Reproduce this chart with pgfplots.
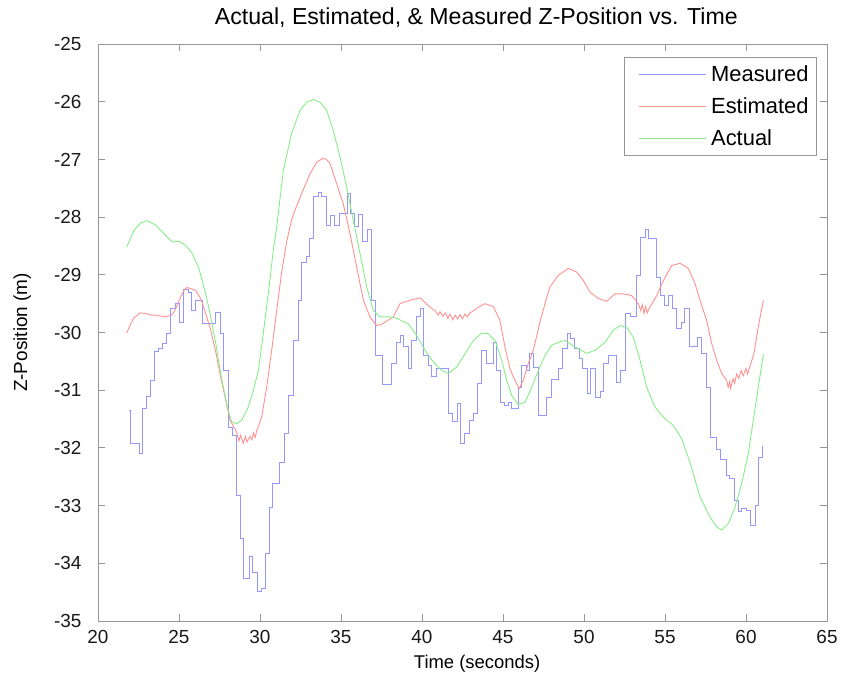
\documentclass[border=0pt]{standalone}
\usepackage{pgfplots}
\pgfplotsset{compat=1.18}
\usepackage{fontspec}
\setmainfont{Liberation Sans}
\definecolor{axgray}{RGB}{150,150,150}
\definecolor{mblue}{RGB}{150,150,255}
\definecolor{ered}{RGB}{255,145,145}
\definecolor{agreen}{RGB}{135,238,135}
\begin{document}
\begin{tikzpicture}
\path (-98bp,-65bp) rectangle (753bp,621bp);
\begin{axis}[
  scale only axis,
  width=729bp, height=577bp,
  xmin=20, xmax=65, ymin=-35, ymax=-25,
  xtick={20,25,...,65}, ytick={-35,-34,...,-25},
  xtick pos=both, ytick pos=both,
  tick align=inside,
  major tick length=7bp,
  tick style={draw=axgray, line width=0.8bp},
  axis line style={draw=axgray, line width=0.8bp},
  /pgf/number format/assume math mode=true,
  ticklabel style={font=\fontsize{19}{22}\selectfont, text=black!90},
  xticklabel style={yshift=-6bp},
  yticklabel style={xshift=-13bp},
  title={Actual, Estimated, \& Measured Z-Position vs. Time},
  title style={font=\fontsize{23.2}{27}\selectfont, at={(axis description cs:0.519,1.036)}, anchor=center},
  xlabel={Time (seconds)},
  xlabel style={font=\fontsize{18.5}{22}\selectfont, at={(axis description cs:0.52,-0.0735)}, anchor=center},
  ylabel={Z-Position (m)},
  ylabel style={font=\fontsize{19}{22}\selectfont, at={(axis description cs:-0.104,0.5)}, anchor=center},
  legend style={at={(axis description cs:1,1)}, anchor=north east, xshift=-10bp, yshift=-13bp,
    draw=axgray, line width=0.8bp, font=\fontsize{22}{26}\selectfont,
    inner xsep=6bp, inner ysep=6bp, row sep=11bp},
  legend cell align=left,
  legend image code/.code={\draw[#1, line width=1bp] (0bp,0bp) -- (67bp,0bp); \path (-8bp,0bp) (70bp,0bp);},
  every axis plot/.append style={line width=0.9bp},
]
\addplot[draw=mblue, const plot mark left] coordinates {
(21.9,-31.35) (22.0,-31.93) (22.53,-32.1) (22.73,-31.31) (23.0,-31.11) (23.25,-30.83)
(23.46,-30.32) (23.72,-30.28) (23.97,-30.19) (24.24,-30.02) (24.49,-29.59) (24.79,-29.50)
(25.0,-29.82) (25.27,-29.26) (25.56,-29.30) (25.76,-29.62) (26.03,-29.44) (26.44,-29.85)
(27.26,-29.65) (27.53,-30.02) (27.73,-30.66) (28.04,-31.64) (28.29,-31.78) (28.52,-32.82)
(28.81,-33.57) (28.97,-34.26) (29.34,-33.88) (29.55,-34.15) (29.83,-34.49) (30.1,-34.43)
(30.31,-33.83) (30.56,-33.03) (30.78,-32.62) (31.23,-32.26) (31.54,-31.75) (31.75,-31.09)
(32.06,-30.14) (32.36,-29.44) (32.57,-28.78) (32.84,-28.69) (33.07,-28.37) (33.29,-27.65)
(33.6,-27.57) (33.8,-27.65) (34.11,-28.14) (34.32,-27.97) (34.57,-28.14) (34.88,-27.94)
(35.39,-27.59) (35.6,-27.94) (35.86,-28.17) (36.07,-27.95) (36.34,-28.43) (36.62,-28.22)
(36.89,-29.44) (37.1,-30.40) (37.57,-30.9) (38.12,-30.54) (38.4,-30.17) (38.64,-30.05)
(38.85,-30.24) (39.16,-30.63) (39.36,-30.14) (39.67,-29.73) (39.88,-29.59) (40.12,-30.40)
(40.39,-30.57) (40.6,-30.77) (40.9,-30.63) (41.63,-31.41) (41.9,-31.55) (42.18,-31.23)
(42.39,-31.93) (42.65,-31.75) (42.92,-31.52) (43.17,-31.41) (43.41,-30.89) (43.68,-30.31)
(43.95,-30.54) (44.4,-30.17) (44.61,-30.66) (44.86,-31.21) (45.12,-31.26) (45.33,-31.21)
(45.54,-31.32) (45.95,-30.95) (46.15,-30.57) (46.46,-30.66) (46.62,-30.36) (46.87,-30.6)
(47.18,-31.44) (47.69,-31.12) (48.0,-30.82) (48.41,-30.62) (48.68,-30.28) (48.97,-30.02)
(49.17,-30.1) (49.38,-30.28) (49.71,-30.45) (49.92,-30.63) (50.2,-31.06) (50.41,-30.63)
(50.68,-31.12) (50.99,-31.03) (51.23,-30.54) (51.5,-30.40) (52.01,-30.86) (52.22,-30.66)
(52.53,-29.67) (52.88,-29.73) (53.21,-29.01) (53.46,-28.35) (53.77,-28.22) (53.97,-28.37)
(54.48,-29.04) (54.69,-29.36) (54.96,-29.53) (55.2,-29.36) (55.47,-29.59) (55.72,-29.93)
(56.03,-29.82) (56.23,-29.59) (56.5,-30.25) (56.99,-30.08) (57.22,-30.37) (57.53,-30.96)
(57.78,-31.82) (58.19,-32.03) (58.44,-32.2) (58.77,-32.48) (58.97,-32.53) (59.28,-32.91)
(59.53,-33.11) (59.73,-33.05) (60.0,-33.08) (60.25,-33.34) (60.56,-33.0) (60.76,-32.17)
(61.03,-31.96)
};
\addlegendentry{Measured}
\addplot[draw=ered] coordinates {
(21.77,-30.01) (22.02,-29.85) (22.2,-29.75) (22.43,-29.70) (22.6,-29.66) (22.94,-29.67)
(23.3,-29.70) (23.56,-29.70) (24.18,-29.73) (24.5,-29.70) (24.69,-29.65) (24.9,-29.52)
(25.06,-29.41) (25.31,-29.27) (25.5,-29.22) (25.72,-29.24) (26.03,-29.27) (26.34,-29.41)
(26.65,-29.67) (26.96,-29.96) (27.27,-30.34) (27.57,-30.77) (27.98,-31.29) (28.15,-31.52)
(28.35,-31.62) (28.56,-31.73) (28.7,-31.88) (28.8,-31.78) (28.97,-31.92) (29.1,-31.80)
(29.2,-31.90) (29.38,-31.80) (29.5,-31.86) (29.6,-31.74) (29.7,-31.82) (29.8,-31.70)
(30.1,-31.47) (30.41,-30.95) (30.72,-30.31) (31.03,-29.62) (31.34,-28.95) (31.65,-28.42)
(31.95,-28.05) (32.16,-27.88) (32.57,-27.59) (33.09,-27.25) (33.5,-27.05) (33.87,-26.98)
(34.1,-27.00) (34.32,-27.07) (34.73,-27.42) (35.14,-27.77) (35.56,-28.29) (35.97,-28.87)
(36.38,-29.44) (36.79,-29.73) (37.2,-29.88) (37.5,-29.86) (37.72,-29.82) (38.23,-29.73)
(38.64,-29.50) (39.26,-29.44) (39.88,-29.40) (40.49,-29.56) (40.8,-29.62) (41.0,-29.70)
(41.11,-29.64) (41.3,-29.72) (41.45,-29.66) (41.6,-29.76) (41.73,-29.68) (41.9,-29.78)
(42.05,-29.70) (42.2,-29.77) (42.35,-29.69) (42.5,-29.76) (42.65,-29.68) (42.8,-29.73)
(42.96,-29.66) (43.2,-29.62) (43.48,-29.56) (43.89,-29.50) (44.4,-29.55) (44.81,-29.79)
(45.12,-30.25) (45.43,-30.63) (45.74,-30.83) (46.0,-30.97) (46.25,-30.83) (46.56,-30.54)
(46.87,-30.31) (47.28,-29.82) (47.7,-29.39) (47.9,-29.21) (48.41,-29.01) (49.03,-28.89)
(49.54,-28.95) (49.96,-29.10) (50.37,-29.30) (50.88,-29.41) (51.4,-29.46) (51.91,-29.33)
(52.43,-29.33) (52.94,-29.36) (53.35,-29.50) (53.5,-29.62) (53.6,-29.52) (53.7,-29.67)
(53.8,-29.55) (53.9,-29.66) (54.07,-29.56) (54.49,-29.36) (54.9,-29.10) (55.41,-28.84)
(55.93,-28.80) (56.44,-28.89) (56.85,-29.15) (57.16,-29.44) (57.57,-29.79) (57.88,-30.19)
(58.19,-30.48) (58.5,-30.71) (58.81,-30.83) (58.9,-30.95) (59.0,-30.85) (59.05,-30.97)
(59.2,-30.80) (59.3,-30.88) (59.42,-30.72) (59.55,-30.80) (59.7,-30.66) (59.83,-30.75)
(60.0,-30.62) (60.1,-30.72) (60.25,-30.58) (60.49,-30.37) (60.76,-29.90) (61.07,-29.44)
};
\addlegendentry{Estimated}
\addplot[draw=agreen] coordinates {
(21.77,-28.52) (22.22,-28.23) (22.63,-28.10) (23.04,-28.06) (23.56,-28.14) (24.07,-28.29)
(24.59,-28.43) (25.0,-28.42) (25.41,-28.49) (25.82,-28.63) (26.23,-28.89) (26.65,-29.33)
(26.96,-29.73) (27.27,-30.19) (27.57,-30.71) (27.98,-31.29) (28.25,-31.55) (28.56,-31.58)
(28.87,-31.52) (29.28,-31.29) (29.59,-31.00) (29.9,-30.66) (30.2,-30.02) (30.51,-29.33)
(30.82,-28.58) (31.03,-28.17) (31.44,-27.19) (31.95,-26.55) (32.47,-26.15) (32.88,-26.01)
(33.29,-25.96) (33.7,-26.01) (34.12,-26.15) (34.52,-26.50) (34.94,-26.96) (35.35,-27.48)
(35.76,-28.06) (36.17,-28.63) (36.59,-29.21) (37.0,-29.62) (37.41,-29.73) (38.02,-29.73)
(38.43,-29.75) (38.9,-29.82) (39.16,-29.85) (39.67,-30.05) (40.19,-30.31) (40.7,-30.51)
(41.22,-30.66) (41.62,-30.71) (42.14,-30.60) (42.65,-30.37) (43.17,-30.14) (43.68,-30.01)
(44.09,-30.02) (44.51,-30.14) (44.92,-30.48) (45.23,-30.83) (45.54,-31.09) (45.95,-31.25)
(46.36,-31.21) (46.77,-30.95) (47.18,-30.66) (47.59,-30.40) (48.0,-30.22) (48.52,-30.16)
(48.83,-30.14) (49.44,-30.25) (50.16,-30.36) (50.68,-30.31) (51.3,-30.17) (51.81,-29.96)
(52.22,-29.88) (52.63,-29.91) (53.04,-30.08) (53.46,-30.48) (53.87,-30.95) (54.38,-31.29)
(54.9,-31.47) (55.51,-31.61) (56.03,-31.84) (56.54,-32.25) (57.16,-32.85) (57.78,-33.20)
(58.19,-33.37) (58.5,-33.42) (58.91,-33.31) (59.32,-33.03) (59.73,-32.62) (60.14,-32.10)
(60.45,-31.52) (60.76,-30.95) (61.07,-30.37)
};
\addlegendentry{Actual}
\end{axis}
\end{tikzpicture}
\end{document}
